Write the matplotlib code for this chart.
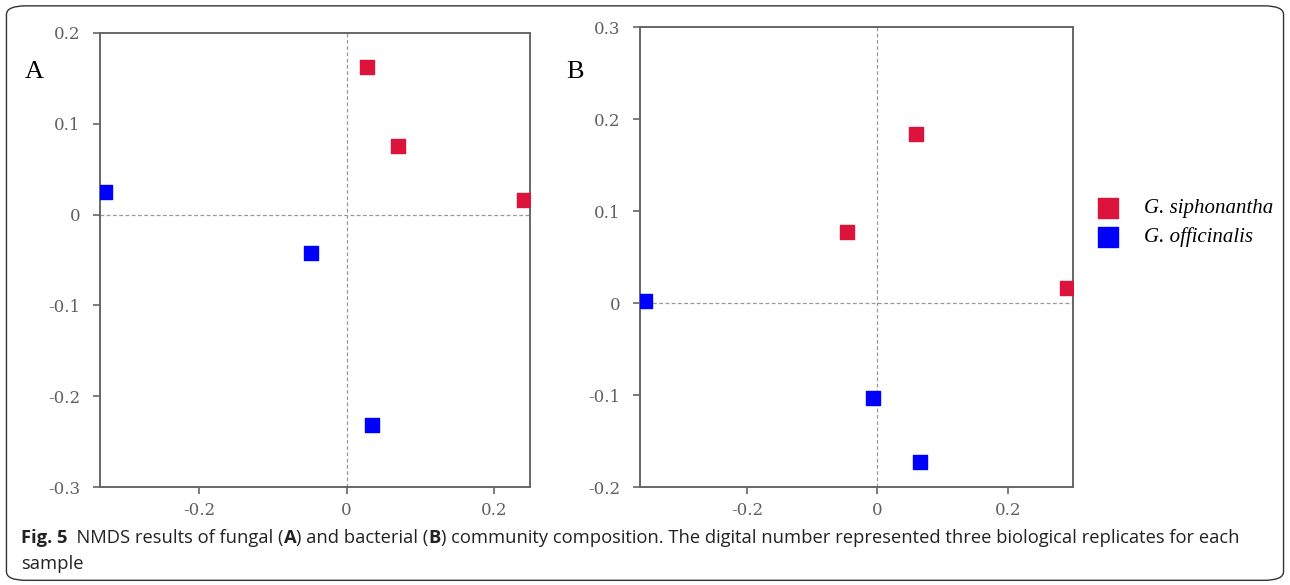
import matplotlib
matplotlib.use("Agg")
import matplotlib.pyplot as plt
from matplotlib.patches import FancyBboxPatch

# NMDS coordinates
a_siph_x = [0.028, 0.070, 0.241]
a_siph_y = [0.163, 0.076, 0.016]
a_offi_x = [-0.328, -0.048, 0.034]
a_offi_y = [0.025, -0.042, -0.232]

b_siph_x = [0.059, -0.046, 0.290]
b_siph_y = [0.184, 0.077, 0.016]
b_offi_x = [-0.356, -0.006, 0.066]
b_offi_y = [0.002, -0.103, -0.173]

a_yticks = [0.2, 0.1, 0, -0.1, -0.2, -0.3]
b_yticks = [0.3, 0.2, 0.1, 0, -0.1, -0.2]
xticks = [-0.2, 0, 0.2]

species = ["G. siphonantha", "G. officinalis"]
red = "#dc143c"
blue = "#0000ff"
grey = "#666666"


def fmt(v):
    return "0" if v == 0 else "%g" % v


def style(ax, xlim, ylim, yt):
    ax.set_xlim(xlim)
    ax.set_ylim(ylim)
    ax.axhline(0, color="#999999", lw=0.9, ls=(0, (3, 2)), zorder=1)
    ax.axvline(0, color="#999999", lw=0.9, ls=(0, (3, 2)), zorder=1)
    ax.set_xticks(xticks)
    ax.set_xticklabels([fmt(v) for v in xticks])
    ax.set_yticks(yt)
    ax.set_yticklabels([fmt(v) for v in yt])
    for s in ax.spines.values():
        s.set_color(grey)
        s.set_linewidth(1.4)
    ax.tick_params(direction="out", length=5, width=1.2, color=grey,
                   labelcolor="#606060", labelsize=12)
    ax.tick_params(axis="x", pad=6)
    ax.tick_params(axis="y", pad=9)
    for lab in ax.get_xticklabels() + ax.get_yticklabels():
        lab.set_family("DejaVu Serif")


fig = plt.figure(figsize=(12.9, 5.85), dpi=100)

frame = FancyBboxPatch((0.005, 0.008), 0.99, 0.982, boxstyle="round,pad=0,rounding_size=0.015",
                       transform=fig.transFigure, fill=False, ec="#333333", lw=1.0)
fig.patches.append(frame)

ax1 = fig.add_axes([0.0775, 0.1675, 0.3334, 0.7761])
ax2 = fig.add_axes([0.4961, 0.1675, 0.3357, 0.7863])

style(ax1, (-0.335, 0.249), (-0.3, 0.2), a_yticks)
style(ax2, (-0.364, 0.300), (-0.2, 0.3), b_yticks)

ax1.scatter(a_siph_x, a_siph_y, marker="s", s=95, c=red, zorder=3)
ax1.scatter(a_offi_x, a_offi_y, marker="s", s=95, c=blue, zorder=3)
ax2.scatter(b_siph_x, b_siph_y, marker="s", s=95, c=red, zorder=3)
ax2.scatter(b_offi_x, b_offi_y, marker="s", s=95, c=blue, zorder=3)

fig.text(0.019, 0.866, "A", fontsize=19, family="Liberation Serif")
fig.text(0.439, 0.866, "B", fontsize=19, family="Liberation Serif")

# legend
h1 = ax2.scatter([], [], marker="s", s=190, c=red)
h2 = ax2.scatter([], [], marker="s", s=190, c=blue)
fig.legend([h1, h2], species, loc="center left", bbox_to_anchor=(0.843, 0.619),
           frameon=False, prop={"family": "Liberation Serif", "style": "italic", "size": 15},
           handletextpad=0.7, labelspacing=0.45, borderpad=0, borderaxespad=0)

# caption with bold parts, font size fitted to the line width of the original
segs1 = [("Fig. 5", "bold"), ("  NMDS results of fungal (", "normal"), ("A", "bold"),
         (") and bacterial (", "normal"), ("B", "bold"),
         (") community composition. The digital number represented three biological replicates for each", "normal")]
renderer = fig.canvas.get_renderer()
cap_family = "Open Sans"
target_w = 1212.0


def draw_line(size):
    x = 0.016
    items = []
    for txt, w in segs1:
        t = fig.text(x, 0.072, txt, fontsize=size, weight=w, family=cap_family,
                     color="#222222", va="baseline")
        bb = t.get_window_extent(renderer)
        x += bb.width / fig.bbox.width
        items.append(t)
    return items, (x - 0.016) * fig.bbox.width


items, w = draw_line(13)
size = 13 * target_w / w
for t in items:
    t.remove()
draw_line(size)
fig.text(0.016, 0.028, "sample", fontsize=size, family=cap_family,
         color="#222222", va="baseline")

fig.savefig("out.png", dpi=100)
